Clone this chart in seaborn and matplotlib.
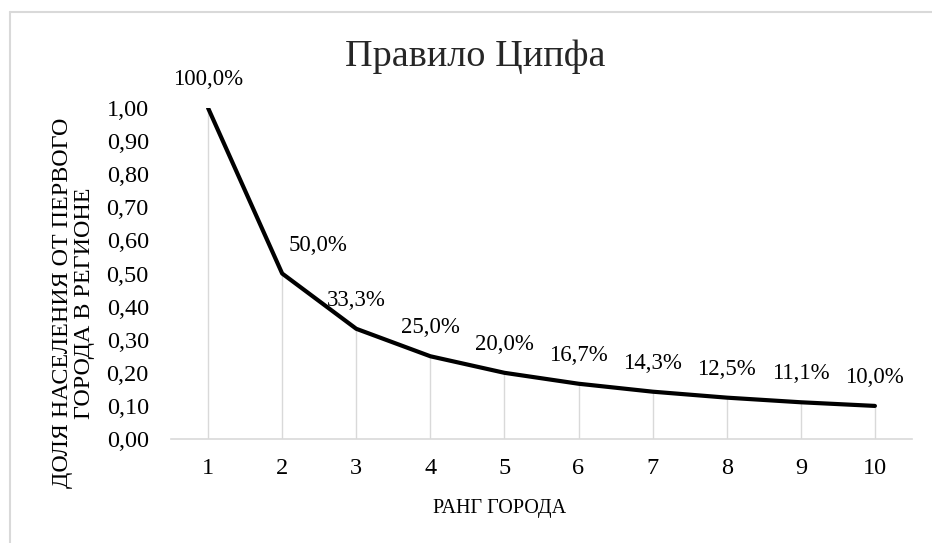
import numpy as np
import pandas as pd
import matplotlib
matplotlib.use('Agg')
import matplotlib.pyplot as plt
import seaborn as sns
from matplotlib.lines import Line2D

ranks = [1, 2, 3, 4, 5, 6, 7, 8, 9, 10]
shares = [1.000, 0.500, 0.333, 0.250, 0.200, 0.167, 0.143, 0.125, 0.111, 0.100]
yticks = [0.0, 0.1, 0.2, 0.3, 0.4, 0.5, 0.6, 0.7, 0.8, 0.9, 1.0]

title = 'Правило Ципфа'
xlabel = 'РАНГ ГОРОДА'
ylabel = 'ДОЛЯ НАСЕЛЕНИЯ ОТ ПЕРВОГО\nГОРОДА В РЕГИОНЕ'

sns.set_theme(style='white')
plt.rcParams['font.family'] = ['Liberation Serif', 'DejaVu Serif']

df = pd.DataFrame({'rank': ranks, 'share': shares})

fig = plt.figure(figsize=(9.32, 5.43), dpi=100)
ax = fig.add_axes([0.1835, 0.1915, 0.795, 0.6096])

grid_col = '#d9d9d9'
ax.vlines(df['rank'], 0, df['share'], color=grid_col, lw=1, zorder=1)
sns.lineplot(data=df, x='rank', y='share', color='black', lw=3, ax=ax, zorder=3)

# data labels
for r, s in zip(ranks, shares):
    txt = f'{s * 100:.1f}%'.replace('.', ',')
    dx = 26 if r == 2 else 0
    ax.annotate(txt, (r, s), xytext=(dx, 20.5), textcoords='offset points',
                ha='center', va='center', fontsize=16.5, color='black')

ax.set_xlim(0.5, 10.5)
ax.set_ylim(0, 1.0)
ax.set_xticks(ranks)
ax.set_yticks(yticks)
ax.set_yticklabels([f'{v:.2f}'.replace('.', ',') for v in yticks])
ax.tick_params(axis='both', length=0, labelsize=17.5, colors='black')
ax.tick_params(axis='x', pad=14)
ax.tick_params(axis='y', pad=16)

for side in ['top', 'right', 'left']:
    ax.spines[side].set_visible(False)
ax.spines['bottom'].set_color(grid_col)
ax.spines['bottom'].set_linewidth(1.2)

ax.set_xlabel(xlabel, fontsize=14.5, color='black')
ax.set_ylabel(ylabel, fontsize=17.3, color='black', linespacing=1.05)
ax.xaxis.set_label_coords(0.444, -0.18)
ax.yaxis.set_label_coords(-0.103, 0.41)

fig.text(475 / 932, 1 - 57 / 543, title, ha='center', va='center', fontsize=27.5)

# chart border (only top and left edges are visible in the crop)
fig.add_artist(Line2D([10 / 932, 10 / 932], [0, 1 - 12 / 543], transform=fig.transFigure,
                      color=grid_col, lw=1.5))
fig.add_artist(Line2D([10 / 932, 1], [1 - 12 / 543, 1 - 12 / 543], transform=fig.transFigure,
                      color=grid_col, lw=1.5))

fig.savefig('out.png', dpi=100, facecolor='white')
